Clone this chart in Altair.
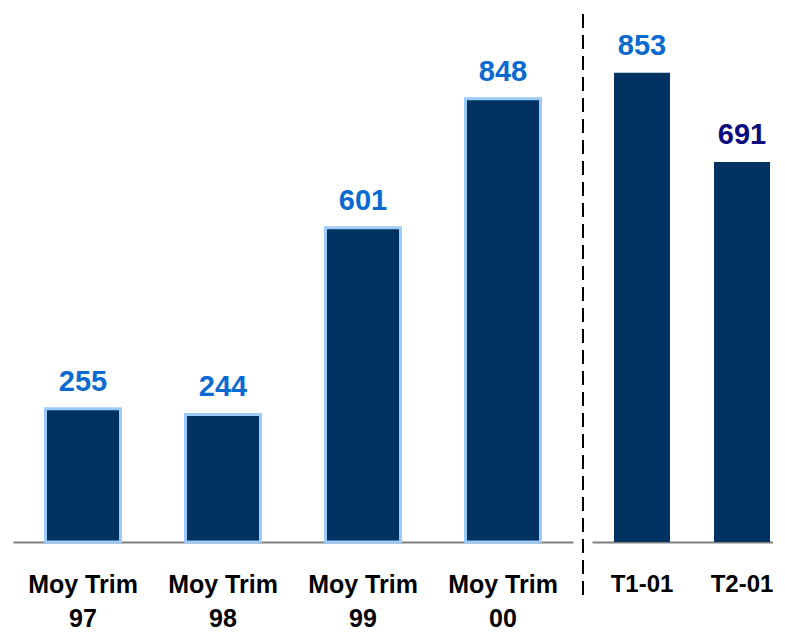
import altair as alt
import pandas as pd

left_categories = ["Moy Trim|97", "Moy Trim|98", "Moy Trim|99", "Moy Trim|00"]
left_values = [255, 244, 601, 848]
right_categories = ["T1-01", "T2-01"]
right_values = [853, 691]
right_label_colors = ["#0A6ACF", "#0B0B80"]

df_left = pd.DataFrame({"cat": left_categories, "val": left_values})
df_right = pd.DataFrame({"cat": right_categories, "val": right_values, "lc": right_label_colors})

FONT = "Liberation Sans"
BAR_FILL = "#023262"


def make_axis(size, offset=0):
    return alt.Axis(
        title=None, ticks=False, labelAngle=0, labelFont=FONT, labelFontSize=size,
        labelFontWeight="bold", labelColor="#000000", labelBaseline="top",
        labelPadding=30, labelLineHeight=34, labelExpr="split(datum.label, '|')",
        labelOffset=offset, domainColor="#808080", domainWidth=2, labelOverlap=False,
    )


base_l = alt.Chart(df_left).encode(
    x=alt.X("cat:N", sort=None, axis=make_axis(25),
            scale=alt.Scale(paddingInner=0, paddingOuter=0)),
    y=alt.Y("val:Q", axis=None, scale=alt.Scale(domain=[0, 1010])),
)
bars_l = base_l.mark_bar(size=75, color=BAR_FILL, stroke="#9CCBF8", strokeWidth=3)
text_l = base_l.mark_text(dy=-18, baseline="alphabetic", font=FONT, fontSize=29,
                          fontWeight="bold", color="#0A6ACF").encode(text="val:Q")
left = alt.layer(bars_l, text_l).properties(width=560, height=528)

base_r = alt.Chart(df_right).encode(
    x=alt.X("cat:N", sort=None, axis=make_axis(24, offset=7.5),
            scale=alt.Scale(paddingInner=0.15, paddingOuter=0)),
    y=alt.Y("val:Q", axis=None, scale=alt.Scale(domain=[0, 960])),
)
bars_r = base_r.mark_bar(size=56, color=BAR_FILL, xOffset=7.5)
text_r = base_r.mark_text(dy=-18, xOffset=7.5, baseline="alphabetic", font=FONT,
                          fontSize=29, fontWeight="bold").encode(
    text="val:Q", color=alt.Color("lc:N", scale=None))
sep = alt.Chart(pd.DataFrame({"a": [0]})).mark_rule(
    strokeDash=[14, 7], color="#000000", strokeWidth=2
).encode(x=alt.value(-9), y=alt.value(0), y2=alt.value(585))
right = alt.layer(bars_r, text_r, sep).properties(width=185, height=528)

chart = alt.hconcat(left, right, spacing=19, bounds="flush").properties(
    padding={"left": 5, "top": 5, "right": -4, "bottom": 0}
).configure_view(stroke=None)

chart.save("out.html", embed_options={"renderer": "svg", "actions": False})
